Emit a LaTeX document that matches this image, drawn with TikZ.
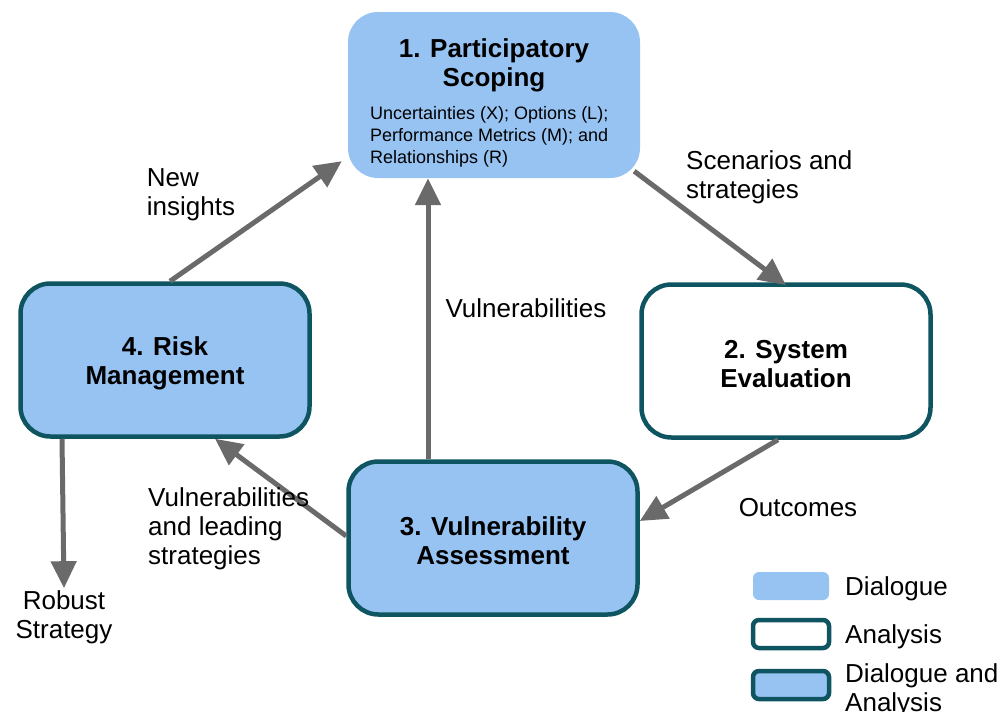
\documentclass[tikz,border=0pt]{standalone}
\usepackage{fontspec}
\setmainfont{Liberation Sans}
\usetikzlibrary{arrows.meta,positioning}
\definecolor{dialogueblue}{HTML}{97C3F3}
\definecolor{tealline}{HTML}{0F5561}
\definecolor{arrowgray}{HTML}{6A6A6A}
\tikzset{
x=1pt, y=-1pt,
every node/.style={inner sep=0pt, font=\fontsize{26}{29}\selectfont},
box/.style={rounded corners=30pt, minimum width=289pt, minimum height=153pt},
dialogue/.style={box, fill=dialogueblue},
analysis/.style={box, draw=tealline, line width=4.5pt, fill=white},
both/.style={box, draw=tealline, line width=4.5pt, fill=dialogueblue},
txt/.style={yshift=-3pt},
title/.style={txt, align=center, font=\fontsize{26}{29}\selectfont\bfseries},
flow/.style={draw=arrowgray, line width=5pt, -{Triangle[length=27pt,width=25pt]}},
lbl/.style={txt, align=left},
legbox/.style={rounded corners=6pt, minimum width=76pt, minimum height=28pt},
}

\begin{document}
\begin{tikzpicture}
        \useasboundingbox (0,0) rectangle (1004,712);

        % the four steps
        \node[dialogue, minimum width=292pt, minimum height=166pt] (p1) at (494,95) {};
        \node[title] (p1t) at (494,62) {1. Participatory\\Scoping};
        \node[lbl, anchor=west, font=\fontsize{18}{22}\selectfont] (p1d) at (370,134)
            {Uncertainties (X); Options (L);\\Performance Metrics (M); and\\Relationships (R)};
        \node[analysis] (p2) at (786,361) {};
        \node[title] at (p2) {2. System\\Evaluation};
        \node[both] (p3) at (493,538) {};
        \node[title] at (p3) {3. Vulnerability\\Assessment};
        \node[both] (p4) at (165,360) {};
        \node[title] at (p4) {4. Risk\\Management};
        \node[txt, align=center] (rs) at (64,614) {Robust\\Strategy};

        % connectors
        \draw[flow] ([xshift=5pt]p4.north) -- ([shift={(-6,-17)}]p1.south west);
        \draw[flow] ([xshift=-65pt]p3.north) -- ([xshift=-66pt]p1.south);
        \draw[flow] ([shift={(-6,-7)}]p1.south east) -- ([yshift=-3pt]p2.north);
        \draw[flow] ([xshift=-8pt]p2.south) -- ([yshift=17pt]p3.east);
        \draw[flow] ([yshift=2pt]p3.west) -- ([xshift=50pt]p4.south);
        \draw[flow] ([xshift=-103pt]p4.south) -- ([yshift=2pt]rs.north);

        \node[lbl] (l1) at (191,192) {New\\insights};
        \node[txt] (l2) at (526,305) {Vulnerabilities};
        \node[lbl, anchor=west] (l3) at (686,174) {Scenarios and\\strategies};
        \node[txt] (l4) at (798,505) {Outcomes};
        \node[lbl, anchor=west] (l5) at (148,526) {Vulnerabilities\\and leading\\strategies};

        % legend
        \node[legbox, fill=dialogueblue] (k1) at (791,586) {};
        \node[legbox, draw=tealline, line width=4.5pt, fill=white] (k2) at (791,634) {};
        \node[legbox, draw=tealline, line width=4.5pt, fill=dialogueblue] (k3) at (791,685) {};
        \node[txt, anchor=west] (k1t) at (845,586) {Dialogue};
        \node[txt, anchor=west] (k2t) at (845,634) {Analysis};
        \node[lbl, anchor=west] (k3t) at (845,687) {Dialogue and\\Analysis};
    \end{tikzpicture}
\end{document}
